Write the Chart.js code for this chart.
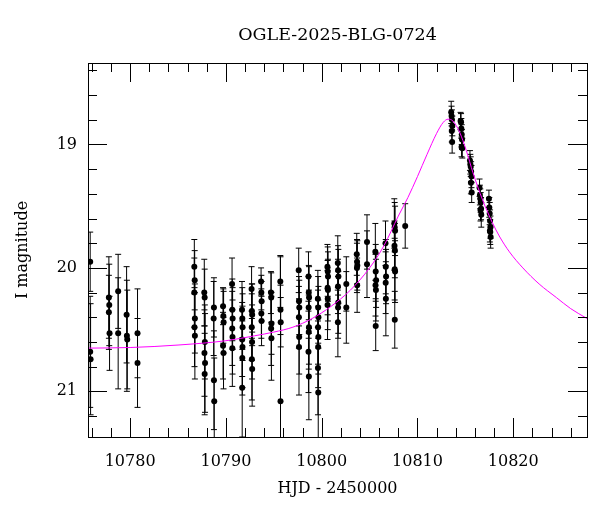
<!DOCTYPE html>
<html>
<head>
<meta charset="utf-8">
<script src="https://cdn.jsdelivr.net/npm/chart.js@4.4.0/dist/chart.umd.min.js"></script>
<style>
  html, body { margin: 0; padding: 0; background: #fff; }
</style>
</head>
<body>
<canvas id="lc" width="600" height="512"></canvas>
<script>
// OGLE photometry (HJD - 2450000, I mag, error)
var hjd = [
  10775.83, 10775.83, 10775.87,
  10777.78, 10777.82, 10777.78, 10777.85,
  10778.75, 10778.75,
  10779.63, 10779.66, 10779.70,
  10780.77, 10780.77,
  10786.70, 10786.74, 10786.70, 10786.76, 10786.72, 10786.76,
  10787.74, 10787.78, 10787.80, 10787.76, 10787.82, 10787.78,
  10788.75, 10788.72, 10788.75, 10788.78,
  10789.70, 10789.73, 10789.76, 10789.70, 10789.75,
  10790.64, 10790.67, 10790.70, 10790.66, 10790.69, 10790.67,
  10791.68, 10791.71, 10791.74, 10791.70, 10791.73, 10791.71, 10791.70,
  10792.68, 10792.71, 10792.74, 10792.70, 10792.73, 10792.71, 10792.74,
  10793.67, 10793.70, 10793.73, 10793.70, 10793.72,
  10794.70, 10794.73, 10794.76, 10794.72, 10794.75,
  10795.68, 10795.70, 10795.72, 10795.70,
  10797.60, 10797.63, 10797.66, 10797.62, 10797.65, 10797.63,
  10798.62, 10798.65, 10798.68, 10798.64, 10798.67, 10798.65, 10798.62, 10798.66,
  10799.60, 10799.63, 10799.66, 10799.62, 10799.65, 10799.63, 10799.61, 10799.64,
  10800.60, 10800.63, 10800.66, 10800.62, 10800.65, 10800.63, 10800.61,
  10801.68, 10801.71, 10801.74, 10801.70, 10801.73, 10801.71, 10801.69,
  10802.57, 10802.57,
  10803.66, 10803.69, 10803.72, 10803.68, 10803.70,
  10804.73, 10804.73,
  10805.60, 10805.64, 10805.68, 10805.62, 10805.66, 10805.64,
  10806.66, 10806.69, 10806.72, 10806.68, 10806.70,
  10807.58, 10807.62, 10807.66, 10807.60, 10807.64, 10807.62, 10807.66, 10807.63,
  10808.72,
  10813.52, 10813.56, 10813.60, 10813.64, 10813.58, 10813.62,
  10814.50, 10814.55, 10814.58, 10814.62, 10814.65, 10814.60, 10814.68,
  10815.48, 10815.52, 10815.56, 10815.60, 10815.64, 10815.58, 10815.66,
  10816.48, 10816.52, 10816.56, 10816.60, 10816.64, 10816.58, 10816.66,
  10817.46, 10817.50, 10817.54, 10817.58, 10817.62, 10817.56, 10817.60, 10817.64
];
var mag = [
  19.95, 20.68, 20.74,
  20.24, 20.30, 20.36, 20.53,
  20.19, 20.53,
  20.38, 20.55, 20.58,
  20.53, 20.77,
  19.99, 20.10, 20.20, 20.41, 20.48, 20.55,
  20.20, 20.24, 20.60, 20.69, 20.77, 20.86,
  20.32, 20.41, 20.91, 21.08,
  20.31, 20.39, 20.44, 20.63, 20.69,
  20.13, 20.34, 20.41, 20.49, 20.56, 20.65,
  20.34, 20.41, 20.48, 20.58, 20.64, 20.73, 20.97,
  20.17, 20.35, 20.38, 20.48, 20.60, 20.74, 20.82,
  20.11, 20.20, 20.27, 20.37, 20.43,
  20.20, 20.24, 20.45, 20.49, 20.57,
  20.11, 20.34, 20.44, 21.08,
  20.02, 20.27, 20.32, 20.40, 20.56, 20.64,
  20.07, 20.20, 20.24, 20.32, 20.48, 20.52, 20.68, 20.88,
  20.25, 20.32, 20.40, 20.48, 20.56, 20.64, 20.81, 21.01,
  19.99, 20.03, 20.07, 20.16, 20.18, 20.25, 20.30,
  19.96, 20.02, 20.07, 20.15, 20.28, 20.32, 20.44,
  20.13, 20.32,
  19.89, 19.95, 19.98, 20.00, 20.14,
  19.79, 19.97,
  19.87, 20.03, 20.10, 20.14, 20.18, 20.47,
  19.80, 19.99, 20.07, 20.12, 20.25,
  19.64, 19.67, 19.70, 19.82, 19.86, 20.01, 20.03, 20.42,
  19.66,
  18.74, 18.77, 18.80, 18.85, 18.89, 18.98,
  18.81, 18.82, 18.87, 18.92, 18.96, 19.02, 19.03,
  19.13, 19.16, 19.18, 19.22, 19.26, 19.31, 19.39,
  19.35, 19.41, 19.44, 19.47, 19.52, 19.53, 19.57,
  19.44, 19.51, 19.56, 19.62, 19.67, 19.70, 19.71, 19.75
];
var magErr = [
  0.24, 0.45, 0.45,
  0.33, 0.33, 0.30, 0.30,
  0.30, 0.45,
  0.39, 0.45, 0.40,
  0.36, 0.36,
  0.22, 0.24, 0.28, 0.28, 0.32, 0.35,
  0.27, 0.23, 0.30, 0.35, 0.40, 0.33,
  0.24, 0.30, 0.40, 0.35,
  0.15, 0.22, 0.25, 0.27, 0.29,
  0.21, 0.25, 0.25, 0.30, 0.30, 0.31,
  0.23, 0.25, 0.27, 0.30, 0.33, 0.30, 0.40,
  0.18, 0.22, 0.25, 0.27, 0.30, 0.33, 0.30,
  0.11, 0.14, 0.16, 0.20, 0.20,
  0.17, 0.20, 0.25, 0.30, 0.34,
  0.21, 0.20, 0.20, 1.17,
  0.18, 0.20, 0.22, 0.25, 0.30, 0.39,
  0.20, 0.22, 0.25, 0.25, 0.30, 0.30, 0.33, 0.35,
  0.23, 0.25, 0.25, 0.30, 0.30, 0.33, 0.38, 0.40,
  0.18, 0.20, 0.20, 0.22, 0.25, 0.25, 0.28,
  0.22, 0.20, 0.22, 0.22, 0.25, 0.25, 0.28,
  0.22, 0.29,
  0.17, 0.18, 0.20, 0.20, 0.22,
  0.22, 0.27,
  0.23, 0.22, 0.22, 0.25, 0.25, 0.20,
  0.18, 0.22, 0.22, 0.25, 0.30,
  0.20, 0.20, 0.20, 0.20, 0.22, 0.25, 0.25, 0.23,
  0.18,
  0.09, 0.08, 0.08, 0.08, 0.09, 0.09,
  0.07, 0.07, 0.08, 0.08, 0.08, 0.08, 0.08,
  0.08, 0.08, 0.08, 0.08, 0.09, 0.09, 0.08,
  0.07, 0.08, 0.08, 0.08, 0.09, 0.09, 0.10,
  0.07, 0.08, 0.09, 0.09, 0.09, 0.09, 0.10, 0.09
];

// model curve (magenta), sampled off the plot
var modelT = [10775.6, 10780, 10785, 10790, 10793, 10795, 10797, 10799, 10801,
  10803, 10805, 10806.5, 10808, 10809, 10810, 10811, 10812, 10812.7, 10813.2,
  10813.7, 10814.4, 10815.1, 10815.8, 10816.8, 10817.8, 10818.6, 10819.6, 10821,
  10822.7, 10824.5, 10826, 10827.7];
var modelMag = [20.65, 20.645, 20.625, 20.59, 20.55, 20.52, 20.48, 20.41, 20.31,
  20.18, 20.00, 19.82, 19.58, 19.43, 19.26, 19.08, 18.91, 18.82, 18.795,
  18.81, 18.90, 19.05, 19.23, 19.45, 19.63, 19.75, 19.87, 20.00,
  20.13, 20.24, 20.33, 20.41];

var xTickLabels = [10780, 10790, 10800, 10810, 10820];
var yTickLabels = [19, 20, 21];

var serif = "'DejaVu Serif', 'Liberation Serif', serif";

var decor = {
  id: 'decor',
  beforeDatasetsDraw: function (chart) {
    var ctx = chart.ctx, a = chart.chartArea;
    var xs = chart.scales.x, ys = chart.scales.y;
    ctx.save();
    ctx.beginPath();
    ctx.rect(a.left, a.top, a.right - a.left, a.bottom - a.top);
    ctx.clip();
    ctx.strokeStyle = '#000';
    ctx.lineWidth = 1;
    for (var i = 0; i < hjd.length; i++) {
      var px = xs.getPixelForValue(hjd[i]);
      var y1 = ys.getPixelForValue(mag[i] - magErr[i]);
      var y2 = ys.getPixelForValue(mag[i] + magErr[i]);
      ctx.beginPath();
      ctx.moveTo(px, y1); ctx.lineTo(px, y2);
      ctx.moveTo(px - 3, y1); ctx.lineTo(px + 3, y1);
      ctx.moveTo(px - 3, y2); ctx.lineTo(px + 3, y2);
      ctx.stroke();
    }
    ctx.restore();
  },
  afterDraw: function (chart) {
    var ctx = chart.ctx, a = chart.chartArea;
    var xs = chart.scales.x, ys = chart.scales.y;
    ctx.save();
    ctx.strokeStyle = '#000';
    ctx.lineWidth = 1;
    ctx.beginPath();
    // inward ticks, major every 10 d / 1 mag, minor every 2 d / 0.2 mag
    for (var d = 10776; d <= 10827; d += 2) {
      var major = d % 10 === 0;
      var len = major ? 19 : 9;
      var px = Math.round(xs.getPixelForValue(d)) + 0.5;
      ctx.moveTo(px, a.bottom); ctx.lineTo(px, a.bottom - len);
      ctx.moveTo(px, a.top); ctx.lineTo(px, a.top + len);
    }
    for (var k = 92; k <= 106; k++) {
      var m = k / 5;
      var len2 = (k % 5 === 0) ? 19 : 9;
      var py = Math.round(ys.getPixelForValue(m)) + 0.5;
      ctx.moveTo(a.left, py); ctx.lineTo(a.left + len2, py);
      ctx.moveTo(a.right, py); ctx.lineTo(a.right - len2, py);
    }
    ctx.stroke();
    ctx.strokeRect(Math.round(a.left) + 0.5, Math.round(a.top) + 0.5,
      Math.round(a.right - a.left), Math.round(a.bottom - a.top));
    ctx.restore();
  }
};

new Chart(document.getElementById('lc'), {
  type: 'scatter',
  data: {
    datasets: [{
      type: 'line',
      label: 'model',
      data: modelT.map(function (t, i) { return { x: t, y: modelMag[i] }; }),
      borderColor: '#ff00ff',
      borderWidth: 1,
      pointRadius: 0,
      fill: false,
      cubicInterpolationMode: 'monotone',
      order: 0
    }, {
      label: 'OGLE',
      data: hjd.map(function (t, i) { return { x: t, y: mag[i] }; }),
      backgroundColor: '#000',
      borderWidth: 0,
      pointRadius: 3,
      order: 1
    }]
  },
  options: {
    responsive: false,
    animation: false,
    layout: { padding: { left: 0, right: 13, top: 0, bottom: 0 } },
    plugins: {
      legend: { display: false },
      tooltip: { enabled: false },
      title: {
        display: true,
        text: 'OGLE-2025-BLG-0724',
        fullSize: false,
        color: '#000',
        font: { family: serif, size: 17.5, weight: 'normal', lineHeight: 1.2 },
        padding: { top: 25, bottom: 17 }
      }
    },
    scales: {
      x: {
        type: 'linear',
        position: 'bottom',
        min: 10775.6,
        max: 10827.7,
        grid: { display: false, drawTicks: false },
        border: { display: false },
        afterBuildTicks: function (s) { s.ticks = xTickLabels.map(function (v) { return { value: v }; }); },
        afterFit: function (s) { s.height = 75; },
        ticks: {
          color: '#000',
          padding: 15,
          maxRotation: 0,
          font: { family: serif, size: 16 },
          callback: function (v) { return String(v); }
        },
        title: {
          display: true,
          text: 'HJD - 2450000',
          color: '#000',
          font: { family: serif, size: 16, lineHeight: 1.2 },
          padding: { top: 0, bottom: 14 }
        }
      },
      y: {
        type: 'linear',
        reverse: true,
        min: 18.34,
        max: 21.37,
        grid: { display: false, drawTicks: false },
        border: { display: false },
        afterBuildTicks: function (s) { s.ticks = yTickLabels.map(function (v) { return { value: v }; }); },
        afterFit: function (s) { s.width = 88; },
        ticks: {
          color: '#000',
          padding: 11,
          font: { family: serif, size: 16 },
          callback: function (v) { return String(v); }
        },
        title: {
          display: true,
          text: 'I magnitude',
          color: '#000',
          font: { family: serif, size: 16, lineHeight: 1.2 },
          padding: { top: 13, bottom: 0 }
        }
      }
    }
  },
  plugins: [decor]
});
</script>
</body>
</html>
